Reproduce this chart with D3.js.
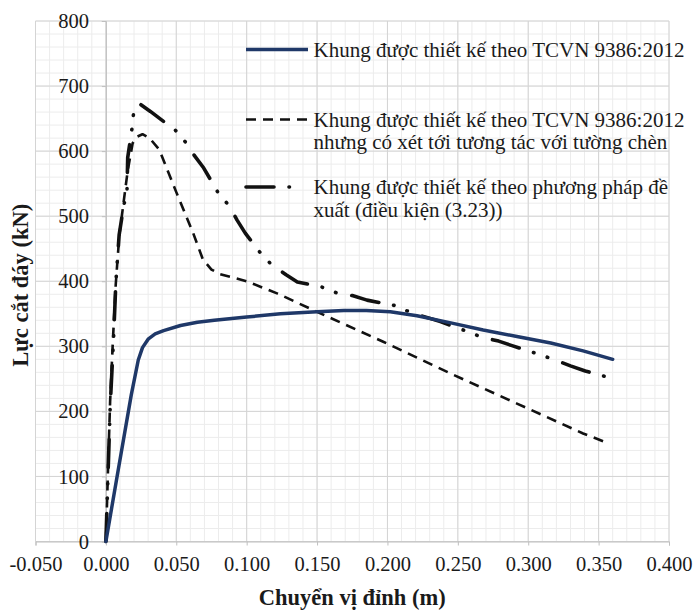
<!DOCTYPE html>
<html>
<head>
<meta charset="utf-8">
<script src="https://cdn.jsdelivr.net/npm/d3@7"></script>
<style>
  html, body { margin: 0; padding: 0; background: #fff; }
  svg { display: block; }
  text { font-family: 'Liberation Serif', 'Times New Roman', serif; fill: #1a1a1a; }
</style>
</head>
<body>
<svg id="chart" width="697" height="610"></svg>
<script>
// Top displacement (m) and base shear (kN) for each frame design
const dispTCVN = [0, 0.009, 0.018, 0.023, 0.026, 0.030, 0.035, 0.041, 0.053, 0.065, 0.077, 0.100, 0.124, 0.150, 0.169, 0.185, 0.202, 0.221, 0.245, 0.268, 0.292, 0.316, 0.339, 0.360];
const shearTCVN = [0, 113, 225, 279, 298, 311, 319, 324, 332, 337, 340, 345, 350, 353, 355, 355, 353, 347, 336, 325, 315, 305, 293, 280];

const dispInfill = [0, 0.0015, 0.003, 0.005, 0.007, 0.0095, 0.0125, 0.0155, 0.019, 0.022, 0.026, 0.031, 0.038, 0.050, 0.062, 0.069, 0.075, 0.081, 0.100, 0.122, 0.150, 0.197, 0.245, 0.292, 0.339, 0.357];
const shearInfill = [0, 110, 215, 310, 395, 470, 520, 570, 612, 622, 626, 620, 602, 537, 474, 433, 418, 411, 400, 381, 353, 307, 258, 212, 166, 151];

const dispProposed = [0, 0.0014, 0.0031, 0.0054, 0.0071, 0.0094, 0.0125, 0.0150, 0.0155, 0.0185, 0.0196, 0.0232, 0.0316, 0.0494, 0.0565, 0.0629, 0.0695, 0.080, 0.0872, 0.0932, 0.099, 0.111, 0.118, 0.128, 0.136, 0.1535, 0.164, 0.175, 0.1855, 0.2068, 0.2163, 0.2376, 0.2577, 0.267, 0.279, 0.2885, 0.3086, 0.319, 0.330, 0.3405, 0.3607];
const shearProposed = [0, 95, 210, 310, 399, 471, 514, 540, 590, 634, 657, 674, 661, 632, 614, 593, 574, 535, 517, 494, 474, 440, 425, 410, 399, 391, 382, 378, 371, 362, 352, 338, 322, 314, 308, 301, 287, 279, 270, 262, 250];

// Axis ticks and their labels
const xTicks = [-0.05, 0, 0.05, 0.1, 0.15, 0.2, 0.25, 0.3, 0.35, 0.4];
const xTickLabels = ["-0.050", "0.000", "0.050", "0.100", "0.150", "0.200", "0.250", "0.300", "0.350", "0.400"];
const yTicks = [0, 100, 200, 300, 400, 500, 600, 700, 800];
const yTickLabels = ["0", "100", "200", "300", "400", "500", "600", "700", "800"];

const xTitle = "Chuyển vị đỉnh (m)";
const yTitle = "Lực cắt đáy (kN)";

const seriesNames = [
  ["Khung được thiết kế theo TCVN 9386:2012"],
  ["Khung được thiết kế theo TCVN 9386:2012", "nhưng có xét tới tương tác với tường chèn"],
  ["Khung được thiết kế theo phương pháp đề", "xuất (điều kiện (3.23))"]
];

const serif = "'Liberation Serif', 'Times New Roman', serif";
const svg = d3.select("#chart");
const plotLeft = 35.5, plotRight = 669, plotTop = 21, plotBottom = 541.5;

const x = d3.scaleLinear().domain([-0.05, 0.4]).range([plotLeft, plotRight]);
const y = d3.scaleLinear().domain([0, 800]).range([plotBottom, plotTop]);

// Gridlines: minor every 0.01 m / 20 kN, major at the tick values
const grid = svg.append("g");
const xMinor = d3.range(0, 46).map(i => -0.05 + i * 0.01);
const yMinor = d3.range(0, 41).map(i => i * 20);
grid.selectAll(".vminor").data(xMinor).join("line")
  .attr("x1", d => x(d)).attr("x2", d => x(d))
  .attr("y1", plotTop).attr("y2", plotBottom)
  .attr("stroke", "#ececec").attr("stroke-width", 1);
grid.selectAll(".hminor").data(yMinor).join("line")
  .attr("x1", plotLeft).attr("x2", plotRight)
  .attr("y1", d => y(d)).attr("y2", d => y(d))
  .attr("stroke", "#ececec").attr("stroke-width", 1);
grid.selectAll(".vmajor").data(xTicks).join("line")
  .attr("x1", d => x(d)).attr("x2", d => x(d))
  .attr("y1", plotTop).attr("y2", plotBottom)
  .attr("stroke", "#d4d4d4").attr("stroke-width", 1);
grid.selectAll(".hmajor").data(yTicks).join("line")
  .attr("x1", plotLeft).attr("x2", plotRight)
  .attr("y1", d => y(d)).attr("y2", d => y(d))
  .attr("stroke", "#d4d4d4").attr("stroke-width", 1);

// Axes
const xAxis = svg.append("g")
  .attr("transform", `translate(0,${plotBottom})`)
  .call(d3.axisBottom(x).tickValues(xTicks).tickSize(4)
    .tickFormat((d, i) => xTickLabels[i]))
  .attr("font-family", serif).attr("font-size", 20.5);
xAxis.select(".domain").attr("stroke", "#bfbfbf");
xAxis.selectAll(".tick line").attr("stroke", "#bfbfbf");
xAxis.selectAll(".tick text")
  .attr("y", 29.5).attr("dy", 0)
  .style("font-family", serif)
  .style("font-size", "20.5px").attr("fill", "#1a1a1a");

const yAxis = svg.append("g")
  .attr("transform", `translate(${x(0)},0)`)
  .call(d3.axisLeft(y).tickValues(yTicks).tickSize(4).tickPadding(13)
    .tickFormat((d, i) => yTickLabels[i]))
  .attr("font-family", serif).attr("font-size", 20.5);
yAxis.select(".domain").attr("stroke", "#bfbfbf");
yAxis.selectAll(".tick line").attr("stroke", "#bfbfbf");
yAxis.selectAll(".tick text")
  .style("font-family", serif)
  .style("font-size", "20.5px").attr("fill", "#1a1a1a");

// Axis titles
svg.append("text")
  .attr("x", (plotLeft + plotRight) / 2).attr("y", 605)
  .attr("text-anchor", "middle")
  .style("font-family", serif)
  .style("font-weight", "bold").style("font-size", "22.5px")
  .text(xTitle);
svg.append("text")
  .attr("transform", `translate(28,${(plotTop + plotBottom) / 2 + 4}) rotate(-90)`)
  .attr("text-anchor", "middle")
  .style("font-family", serif)
  .style("font-weight", "bold").style("font-size", "22.5px")
  .text(yTitle);

// Curves
const line = d3.line().x(d => x(d[0])).y(d => y(d[1]));
const styles = [
  { stroke: "#1f3868", width: 3.5, dash: null, cap: "round" },
  { stroke: "#111", width: 2.6, dash: "10 7", cap: "butt" },
  { stroke: "#111", width: 3.6, dash: "28 15 0.5 14 0.5 16", cap: "round" }
];
const series = [
  d3.zip(dispTCVN, shearTCVN),
  d3.zip(dispInfill, shearInfill),
  d3.zip(dispProposed, shearProposed)
];
const curves = svg.append("g");
[2, 1, 0].forEach(i => {
  curves.append("path")
    .datum(series[i])
    .attr("d", line)
    .attr("fill", "none")
    .attr("stroke", styles[i].stroke)
    .attr("stroke-width", styles[i].width)
    .attr("stroke-dasharray", styles[i].dash)
    .attr("stroke-linecap", styles[i].cap)
    .attr("stroke-linejoin", "round");
});

// Legend
const legendRows = [
  { y: 49.5, x2: 308 },
  { y: 119.5, x2: 312 },
  { y: 187, x2: 296 }
];
const legend = svg.append("g");
legendRows.forEach((row, i) => {
  legend.append("line")
    .attr("x1", 246).attr("x2", row.x2)
    .attr("y1", row.y).attr("y2", row.y)
    .attr("stroke", styles[i].stroke)
    .attr("stroke-width", styles[i].width)
    .attr("stroke-dasharray", styles[i].dash)
    .attr("stroke-linecap", i === 0 ? "butt" : styles[i].cap);
  const t = legend.append("text")
    .attr("x", 313.5).attr("y", row.y + 7)
    .style("font-family", serif)
    .style("font-size", "21px");
  seriesNames[i].forEach((s, k) => {
    t.append("tspan").attr("x", 313.5).attr("dy", k === 0 ? 0 : 22.5).text(s);
  });
});
</script>
</body>
</html>
